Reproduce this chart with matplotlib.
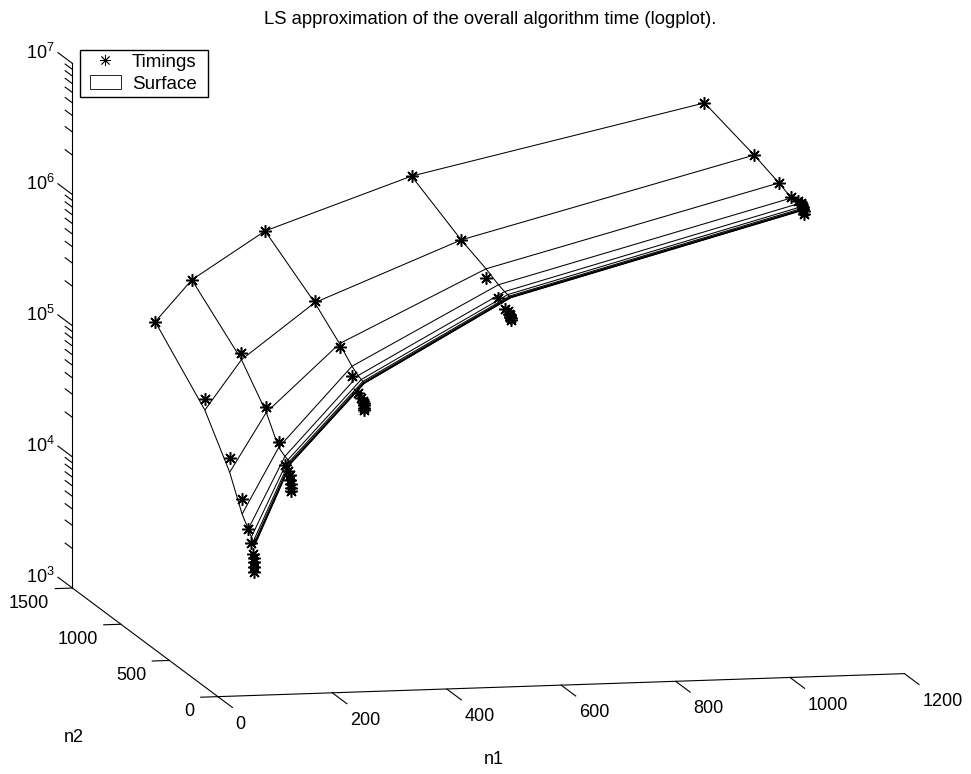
import numpy as np
import matplotlib
matplotlib.use("Agg")
import matplotlib.pyplot as plt
from matplotlib.patches import Patch
from matplotlib.lines import Line2D
from matplotlib.legend_handler import HandlerLine2D, HandlerPatch
from matplotlib.transforms import Affine2D

plt.rcParams['font.family'] = ['Liberation Sans', 'DejaVu Sans']
plt.rcParams['mathtext.fontset'] = 'custom'
plt.rcParams['mathtext.rm'] = 'Liberation Sans'
plt.rcParams['mathtext.default'] = 'rm'

n1_values = [64, 128, 256, 512, 1024]
n2_values = [1024, 512, 256, 128, 64, 32, 16, 8, 4, 2, 1]

# log10(time), one row per n1
timings_64 = [5.284, 4.976, 4.672, 4.424, 4.233, 4.144, 4.069, 4.043, 4.015, 3.978, 3.941]
timings_128 = [5.594, 5.319, 5.050, 4.853, 4.710, 4.684, 4.660, 4.627, 4.598, 4.569, 4.547]
timings_256 = [5.948, 5.694, 5.485, 5.338, 5.244, 5.224, 5.205, 5.194, 5.181, 5.163, 5.145]
timings_512 = [6.329, 6.125, 5.976, 5.894, 5.846, 5.846, 5.837, 5.830, 5.821, 5.811, 5.799]
timings_1024 = [6.812, 6.700, 6.628, 6.592, 6.595, 6.597, 6.591, 6.580, 6.567, 6.552, 6.531]

surface_64 = [5.284, 4.893, 4.560, 4.312, 4.233, 4.190, 4.160, 4.150, 4.144, 4.142, 4.138]
surface_128 = [5.594, 5.268, 5.007, 4.811, 4.778, 4.770, 4.767, 4.764, 4.762, 4.761, 4.760]
surface_256 = [5.948, 5.684, 5.513, 5.411, 5.376, 5.363, 5.357, 5.354, 5.352, 5.351, 5.350]
surface_512 = [6.329, 6.125, 6.046, 5.995, 5.978, 5.973, 5.970, 5.969, 5.968, 5.967, 5.966]
surface_1024 = [6.812, 6.697, 6.626, 6.582, 6.572, 6.567, 6.565, 6.563, 6.562, 6.561, 6.560]

n1_ticks = [0, 200, 400, 600, 800, 1000, 1200]
n2_ticks = [0, 500, 1000, 1500]
z_ticks = [3, 4, 5, 6, 7]
z_ticklabels = ['$10^{3}$', '$10^{4}$', '$10^{5}$', '$10^{6}$', '$10^{7}$']

timings = np.array([timings_64, timings_128, timings_256, timings_512, timings_1024])
surface = np.array([surface_64, surface_128, surface_256, surface_512, surface_1024])
N2, N1 = np.meshgrid(n2_values, n1_values)

fig = plt.figure(figsize=(9.71, 7.74), dpi=100)
ax = fig.add_axes([-7.5 / 971, 8 / 774, 1, 1], projection='3d', proj_type='ortho')
ax.patch.set_alpha(0)
ax.view_init(elev=9.1, azim=-101.96)
ax.set_box_aspect((1, 1, 0.757), zoom=1.412)
ax.set_xlim(0, 1200)
ax.set_ylim(0, 1500)
ax.set_zlim(3, 7)

ax.plot_wireframe(N1, N2, surface, color='black', linewidth=0.75)
ax.plot(N1.ravel(), N2.ravel(), timings.ravel(), linestyle='none', marker=(8, 2, 0),
        markersize=9, markeredgewidth=1.1, color='black')

ax.grid(False)
for axis in (ax.xaxis, ax.yaxis, ax.zaxis):
    axis.set_pane_color((1, 1, 1, 0))
    axis.pane.set_edgecolor((1, 1, 1, 0))
    axis.line.set_color('black')
    axis.line.set_linewidth(0.8)
    axis._axinfo['tick']['inward_factor'] = 0
    axis._axinfo['tick']['outward_factor'] = 0
ax.set_xticks(n1_ticks)
ax.set_yticks(n2_ticks)
ax.set_zticks(z_ticks)
ax.set_zticklabels(z_ticklabels)
ax.tick_params(labelsize=13, colors='black', width=0)


def place_labels(axis, dx, dy, ha):
    # mplot3d resets the label transform whenever it fetches the ticks
    original = axis.get_major_ticks

    def fetch(numticks=None):
        ticks = original(numticks)
        for tick in ticks:
            tick.label1.set_transform(ax.transData + Affine2D().translate(dx, dy))
            tick.label1.set_ha(ha)
        return ticks

    axis.get_major_ticks = fetch


place_labels(ax.xaxis, 12, 6, 'left')
place_labels(ax.yaxis, 4, 15, 'right')
place_labels(ax.zaxis, 1, 17.5, 'center')

# tick marks in the directions the original uses
tick_style = dict(color='black', linewidth=0.8, clip_on=False)
for t in n1_ticks:
    ax.plot([t, t], [0, -150], [3, 3], **tick_style)
for t in n2_ticks:
    ax.plot([0, -30], [t, t], [3, 3], **tick_style)
for t in z_ticks:
    ax.plot([0, 0], [1500, 1650], [t, t], **tick_style)
for t in z_ticks[:-1]:
    for m in range(2, 10):
        z = t + np.log10(m)
        ax.plot([0, 0], [1500, 1575], [z, z], **tick_style)

ax.set_xlim(0, 1200)
ax.set_ylim(0, 1500)
ax.set_zlim(3, 7)

handles = [Line2D([], [], linestyle='none', marker=(8, 2, 0), markersize=8, markeredgewidth=0.6, color='black'),
           Patch(facecolor='white', edgecolor='black', linewidth=0.6)]
fig.legend(handles, ['Timings', 'Surface'], loc='upper left',
           bbox_to_anchor=(80 / 971, 1 - 49.5 / 774, 128 / 971, 0), mode='expand',
           handler_map={Line2D: HandlerLine2D(xpad=0.32), Patch: HandlerPatch(xpad=0.32)},
           fontsize=13.5, frameon=True, framealpha=1, fancybox=False, edgecolor='black',
           borderaxespad=0, borderpad=0.2, labelspacing=0.22, handlelength=1.97, handleheight=0.8,
           handletextpad=0.59)

fig.text(490 / 971, 1 - 20 / 774, 'LS approximation of the overall algorithm time (logplot).',
         ha='center', va='center', fontsize=13.3)
fig.text(494 / 971, 1 - 759 / 774, 'n1', ha='center', va='center', fontsize=13)
fig.text(74 / 971, 1 - 737 / 774, 'n2', ha='center', va='center', fontsize=13)

fig.savefig('out.png', dpi=100)
